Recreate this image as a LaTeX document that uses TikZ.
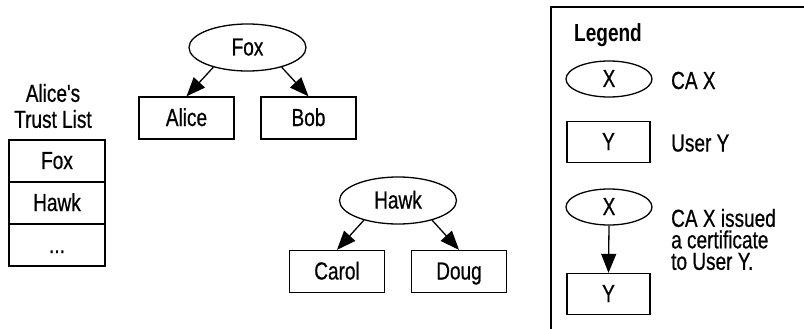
\documentclass[tikz,border=0pt]{standalone}
\usepackage{fontspec}
\setmainfont{Liberation Sans}[Ligatures=TeXOff, FakeStretch=0.77,
  UprightFeatures={FakeBold=0.6}]
\usetikzlibrary{shapes.geometric,arrows.meta}

\begin{document}
\begin{tikzpicture}[x=1pt,y=-1pt,
  every node/.style={font=\fontsize{24.7}{26}\selectfont},
  stroke/.style={line width=1.3pt},
  ca/.style={draw, stroke, ellipse, inner sep=0pt,
    minimum width=117pt, minimum height=47pt, text height=16pt, text depth=0pt},
  user/.style={draw, stroke, rectangle, inner sep=0pt,
    minimum width=95pt, minimum height=42pt, text height=16pt, text depth=0pt},
  trustrow/.style={draw, stroke, rectangle, inner sep=0pt,
    minimum width=96pt, minimum height=42pt, text height=16pt, text depth=0pt},
  keyca/.style={ca, minimum width=86pt, minimum height=36pt},
  keyuser/.style={user, minimum width=83pt, minimum height=41pt},
  label/.style={inner sep=0pt},
  issues/.style={stroke, -{Triangle[length=19pt,width=15pt]}},
]
\useasboundingbox (0,0) rectangle (804,329);

% Fox and the users it certifies
\node[ca]   (fox)   at (247.5,47.5) {Fox};
\node[user] (alice) at (186.5,118)  {Alice};
\node[user] (bob)   at (308.5,118)  {Bob};
\draw[issues] (fox.210) -- (alice.north);
\draw[issues] (fox.330) -- (bob.north);

% Hawk and the users it certifies
\node[ca]   (hawk)  at (398,200.5)  {Hawk};
\node[user] (carol) at (337,271.5)  {Carol};
\node[user] (doug)  at (459,271.5)  {Doug};
\draw[issues] (hawk.210) -- (carol.north);
\draw[issues] (hawk.330) -- (doug.north);

% Alice's list of trusted CAs
\node[label, align=center] (trusttitle) at (53,106) {Alice's\\Trust List};
\node[trustrow] (tfox)  at (57,161) {Fox};
\node[trustrow] (thawk) at (57,203) {Hawk};
\node[trustrow] (tmore) at (57,245) {...};

% Legend
\draw[stroke] (551,329) -- (551,7) -- (804,7);
\node[label, anchor=base west, font=\fontsize{24.7}{26}\selectfont\bfseries]
  (legendtitle) at (574,41.5) {Legend};
\node[keyca]   (keyx)  at (609,79)  {X};
\node[label, anchor=base west] (keyxtext) at (671,89) {CA X};
\node[keyuser] (keyy)  at (608.5,142) {Y};
\node[label, anchor=base west] (keyytext) at (671,151.5) {User Y};
\node[keyca]   (keyx2) at (609,207) {X};
\node[keyuser] (keyy2) at (608.5,294) {Y};
\draw[issues] (keyx2.south) -- (keyy2.north);
\node[label, anchor=west, align=left, font=\fontsize{24.7}{21.5}\selectfont]
  (keyxytext) at (671,239.5) {CA X issued\\a certificate\\to User Y.};
\end{tikzpicture}
\end{document}
